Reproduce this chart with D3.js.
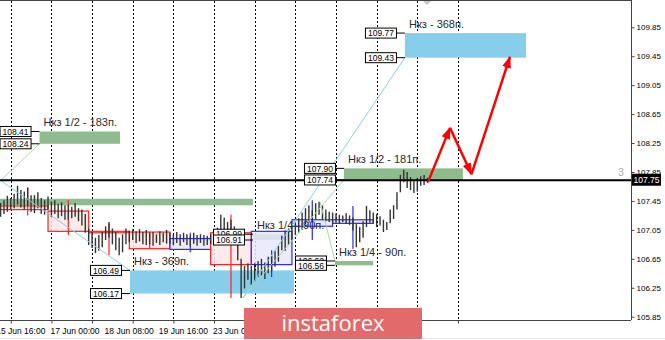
<!DOCTYPE html>
<html>
<head>
<meta charset="utf-8">
<script src="https://cdn.jsdelivr.net/npm/d3@7"></script>
<style>
body { margin: 0; background: #fff; }
svg { display: block; }
</style>
</head>
<body>
<div id="chart"></div>
<script>
// USDJPY H1 - bars are 2h hi/lo, index = trading hours from 15 Jun 00:00
const barStart = 18;
const barStep = 2;
const barHigh = [
    107.42, 107.46, 107.52, 107.49, 107.55, 107.66, 107.60, 107.58, 107.63, 107.53,
    107.53, 107.57, 107.49, 107.46, 107.51, 107.44, 107.46, 107.41, 107.43, 107.39,
    107.40, 107.37, 107.42, 107.35, 107.33, 107.27, 107.07, 107.02, 106.94, 106.98,
    107.02, 107.10, 107.16, 107.07, 107.02, 106.94, 106.99, 107.07, 107.04, 107.06,
    107.03, 107.06, 107.02, 107.05, 107.01, 107.02, 106.99, 107.03, 107.01, 107.05,
    107.01, 106.98, 107.02, 106.99, 107.01, 106.99, 106.97, 107.01, 106.98, 106.99,
    106.98, 106.97, 106.99, 107.01, 107.08, 107.26, 107.22, 107.16, 107.19, 107.10,
    106.97, 106.65, 106.55, 106.59, 106.55, 106.59, 106.62, 106.65, 106.60, 106.68,
    106.69, 106.76, 106.83, 106.97, 107.04, 107.07, 107.11, 107.15, 107.21, 107.29,
    107.35, 107.39, 107.32, 107.42, 107.44, 107.39, 107.33, 107.30, 107.29, 107.28,
    107.26, 107.25, 107.28, 107.25, 107.22, 107.13, 107.09, 107.17, 107.38, 107.32,
    107.29, 107.27, 107.24, 107.19, 107.16, 107.33, 107.39, 107.57, 107.81, 107.88,
    107.85, 107.78, 107.74, 107.77, 107.79, 107.81, 107.77
];
const barLow = [
    107.23, 107.27, 107.30, 107.33, 107.35, 107.40, 107.36, 107.33, 107.38, 107.30,
    107.28, 107.35, 107.27, 107.26, 107.33, 107.23, 107.27, 107.21, 107.24, 107.19,
    107.19, 107.21, 107.23, 107.17, 107.11, 107.01, 106.84, 106.80, 106.73, 106.76,
    106.81, 106.91, 106.94, 106.85, 106.77, 106.70, 106.74, 106.85, 106.88, 106.91,
    106.87, 106.89, 106.85, 106.84, 106.85, 106.83, 106.87, 106.84, 106.88, 106.86,
    106.86, 106.84, 106.87, 106.83, 106.88, 106.84, 106.82, 106.86, 106.83, 106.87,
    106.83, 106.84, 106.85, 106.87, 106.91, 106.96, 107.02, 106.94, 106.96, 106.91,
    106.63, 106.11, 106.24, 106.36, 106.29, 106.34, 106.40, 106.42, 106.37, 106.45,
    106.48, 106.54, 106.61, 106.77, 106.76, 106.84, 106.91, 106.98, 107.01, 107.05,
    107.10, 107.15, 107.18, 107.20, 107.26, 107.19, 107.17, 107.16, 107.14, 107.15,
    107.14, 107.16, 107.13, 107.12, 107.04, 106.81, 106.88, 106.94, 107.09, 107.15,
    107.14, 107.09, 107.11, 107.02, 107.05, 107.14, 107.20, 107.33, 107.57, 107.71,
    107.63, 107.60, 107.56, 107.58, 107.66, 107.67, 107.70
];

// daily boxes: [from, to, open, close, high, low]
const dayBoxes = [
    [-2, 22, 107.38, 107.33, 107.38, 107.33],
    [22, 46, 107.38, 107.33, 107.64, 107.25],
    [46, 70, 107.31, 107.03, 107.46, 106.98],
    [70, 94, 107.03, 107.01, 107.13, 106.70],
    [94, 118, 107.02, 106.79, 107.02, 106.79],
    [118, 142, 106.78, 106.93, 107.01, 106.74],
    [142, 166, 107.01, 106.57, 107.26, 106.11],
    [166, 190, 106.57, 107.03, 106.77, 106.40],
    [190, 214, 107.10, 107.19, 107.46, 106.91],
    [214, 238, 107.14, 107.19, 107.38, 106.79]
];

const zones = [
    {from: 0, to: 167, hi: 107.48, lo: 107.39, fill: "#8fbc8f", name: "", tags: false},
    {from: 41, to: 88.5, hi: 108.41, lo: 108.24, fill: "#8fbc8f", name: "Нкз 1/2 - 183п.", tags: true},
    {from: 94.4, to: 191.2, hi: 106.49, lo: 106.17, fill: "#87ceeb", name: "Нкз - 369п.", tags: true},
    {from: 167, to: 190, hi: 106.99, lo: 106.91, fill: "#8fbc8f", name: "Нкз 1/4 - 90п.", tags: true},
    {from: 215.4, to: 237.9, hi: 106.62, lo: 106.56, fill: "#8fbc8f", name: "Нкз 1/4 - 90п.", tags: true},
    {from: 220.7, to: 290.9, hi: 107.90, lo: 107.74, fill: "#8fbc8f", name: "Нкз 1/2 - 181п.", tags: true},
    {from: 256.7, to: 328.2, hi: 109.77, lo: 109.43, fill: "#87ceeb", name: "Нкз - 368п.", tags: true}
];

// thin trend lines [i1, p1, i2, p2, colour]
const trendLines = [
    [12, 107.83, 94.4, 106.49, "#87ceeb"],
    [12, 107.60, 41, 108.24, "#a8d8a8"],
    [161.1, 106.11, 256.7, 109.43, "#87ceeb"],
    [161.1, 106.11, 220.7, 107.74, "#a8d8a8"],
    [206.6, 107.44, 215.4, 106.62, "#a8d8a8"]
];

const forecast = [
    [270.3, 107.71], [283.3, 108.46], [296, 107.82], [318.7, 109.44]
];

const gridIdx = [24, 48, 72, 96, 120, 144, 168, 192, 216, 240, 264, 288];
const labelIdx = [16, 48, 80, 112, 144];
const labelText = ["15 Jun 16:00", "17 Jun 00:00", "18 Jun 08:00", "19 Jun 16:00", "23 Jun 00:00"];
const priceTicks = [109.85, 109.45, 109.05, 108.65, 108.25, 107.85, 107.45, 107.05, 106.65, 106.25, 105.85];
const lastPrice = 107.75;

const W = 665, H = 340;
const plotR = 631, plotB = 320;

const svg = d3.select("#chart").append("svg")
    .attr("width", W)
    .attr("height", H)
    .style("font-family", "'Liberation Sans', Arial, sans-serif");

const x = d3.scaleLinear().domain([17.65, 390.15]).range([0, plotR]);
const y = d3.scaleLinear().domain([105.85, 109.85]).range([316.7, 27.3]);

const defs = svg.append("defs");
defs.append("clipPath").attr("id", "clip")
    .append("rect").attr("x", 0).attr("y", 1).attr("width", plotR).attr("height", plotB - 1);
defs.append("marker")
    .attr("id", "head")
    .attr("markerUnits", "userSpaceOnUse")
    .attr("viewBox", "0 -5 12 10")
    .attr("refX", 11).attr("refY", 0)
    .attr("markerWidth", 12).attr("markerHeight", 10)
    .attr("orient", "auto")
    .append("path").attr("d", "M0,-4.5L12,0L0,4.5Z").attr("fill", "#ff0000");

const plot = svg.append("g").attr("clip-path", "url(#clip)");

// grid
plot.selectAll(".grid").data(gridIdx).enter().append("line")
    .attr("x1", d => Math.round(x(d)) + 0.5).attr("x2", d => Math.round(x(d)) + 0.5)
    .attr("y1", 1).attr("y2", plotB)
    .attr("stroke", "#000").attr("stroke-width", 1).attr("stroke-dasharray", "2,2");

// zones
plot.selectAll(".zone").data(zones).enter().append("rect")
    .attr("x", d => x(d.from)).attr("width", d => x(d.to) - x(d.from))
    .attr("y", d => y(d.hi)).attr("height", d => y(d.lo) - y(d.hi))
    .attr("fill", d => d.fill);

// daily boxes
dayBoxes.forEach(b => {
    let up = b[3] >= b[2];
    let col = up ? "#2a2aff" : "#ff2020";
    let top = y(Math.max(b[2], b[3])), bot = y(Math.min(b[2], b[3]));
    plot.append("rect")
        .attr("x", x(b[0])).attr("width", x(b[1]) - x(b[0]))
        .attr("y", top).attr("height", Math.max(bot - top, 1))
        .attr("fill", up ? "#e8e8fb" : "#fde6e6")
        .attr("fill-opacity", 0.85)
        .attr("stroke", col).attr("stroke-width", 1.2);
    let mid = x((b[0] + b[1]) / 2);
    plot.append("line")
        .attr("x1", mid).attr("x2", mid)
        .attr("y1", y(b[4])).attr("y2", y(b[5]))
        .attr("stroke", col).attr("stroke-width", 1.2);
});

// price bars
plot.selectAll(".bar").data(barHigh).enter().append("line")
    .attr("x1", (d, i) => x(barStart + i * barStep)).attr("x2", (d, i) => x(barStart + i * barStep))
    .attr("y1", d => y(d)).attr("y2", (d, i) => y(barLow[i]))
    .attr("stroke", "#333").attr("stroke-width", 1.4);

// trend lines
plot.selectAll(".trend").data(trendLines).enter().append("line")
    .attr("x1", d => x(d[0])).attr("y1", d => y(d[1]))
    .attr("x2", d => x(d[2])).attr("y2", d => y(d[3]))
    .attr("stroke", d => d[4]).attr("stroke-width", 1);

// last price line
plot.append("line")
    .attr("x1", 0).attr("x2", plotR)
    .attr("y1", y(lastPrice) + 1).attr("y2", y(lastPrice) + 1)
    .attr("stroke", "#000").attr("stroke-width", 2);

// zone names and price tags
zones.filter(d => d.name).forEach(d => {
    plot.append("text")
        .attr("x", x(d.from) + 4).attr("y", y(d.hi) - 5)
        .attr("font-size", 11).attr("fill", "#2a2a2a")
        .text(d.name);
});

zones.filter(d => d.tags).forEach(d => {
    let right = x(d.from) - 8.5;
    [d.hi, d.lo].forEach(p => {
        plot.append("line")
            .attr("x1", right).attr("x2", x(d.from))
            .attr("y1", y(p)).attr("y2", y(p))
            .attr("stroke", "#000").attr("stroke-width", 1);
        plot.append("rect")
            .attr("x", right - 31).attr("y", y(p) - 5)
            .attr("width", 31).attr("height", 10)
            .attr("fill", "#fff").attr("stroke", "#000").attr("stroke-width", 1);
        plot.append("text")
            .attr("x", right - 15.5).attr("y", y(p) + 3.2)
            .attr("text-anchor", "middle")
            .attr("font-size", 8.5).attr("fill", "#000")
            .text(p.toFixed(2));
    });
});

// forecast arrows
for (let i = 0; i < forecast.length - 1; i++) {
    plot.append("line")
        .attr("x1", x(forecast[i][0])).attr("y1", y(forecast[i][1]))
        .attr("x2", x(forecast[i + 1][0])).attr("y2", y(forecast[i + 1][1]))
        .attr("stroke", "#ff0000").attr("stroke-width", 2.5)
        .attr("marker-end", "url(#head)");
}

plot.append("text")
    .attr("x", 621).attr("y", y(lastPrice) - 3)
    .attr("text-anchor", "middle")
    .attr("font-size", 10).attr("fill", "#aaa")
    .text("3");

plot.append("path")
    .attr("d", "M423,1L431,1L427,5Z")
    .attr("fill", "#c8c8c8");

// frame
svg.append("line").attr("x1", 0).attr("x2", plotR).attr("y1", 0.5).attr("y2", 0.5).attr("stroke", "#444");
svg.append("line").attr("x1", 0).attr("x2", plotR).attr("y1", plotB + 0.5).attr("y2", plotB + 0.5).attr("stroke", "#444");
svg.append("line").attr("x1", plotR + 0.5).attr("x2", plotR + 0.5).attr("y1", 0).attr("y2", plotB).attr("stroke", "#444");
svg.append("line").attr("x1", 0).attr("x2", W).attr("y1", 338.5).attr("y2", 338.5).attr("stroke", "#e4e4e4");

// price axis
const yAxis = svg.append("g")
    .attr("transform", `translate(${plotR + 0.5},0)`)
    .call(d3.axisRight(y).tickValues(priceTicks).tickSize(3).tickPadding(2).tickFormat(d3.format(".2f")));
yAxis.select(".domain").remove();
yAxis.selectAll("text").attr("font-size", 8).attr("font-family", "'Liberation Sans', Arial, sans-serif").attr("fill", "#000");
yAxis.selectAll("line").attr("stroke", "#444");

// time axis
const xTicks = svg.append("g")
    .attr("transform", `translate(0,${plotB + 0.5})`)
    .call(d3.axisBottom(x).tickValues(gridIdx).tickSize(3).tickFormat(""));
xTicks.select(".domain").remove();
xTicks.selectAll("line").attr("stroke", "#444");

svg.selectAll(".tlabel").data(labelIdx).enter().append("text")
    .attr("x", d => x(d) - 1).attr("y", 334)
    .attr("font-size", 8.5).attr("fill", "#000")
    .text((d, i) => labelText[i]);

// last price tag
svg.append("rect")
    .attr("x", 632).attr("y", y(lastPrice) - 5.5)
    .attr("width", 29).attr("height", 12)
    .attr("fill", "#000");
svg.append("text")
    .attr("x", 646.5).attr("y", y(lastPrice) + 3.5)
    .attr("text-anchor", "middle")
    .attr("font-size", 8.5).attr("fill", "#fff")
    .text(lastPrice.toFixed(2));

// watermark
svg.append("rect")
    .attr("x", 244).attr("y", 308).attr("width", 178).attr("height", 31)
    .attr("fill", "#e36a6a");
svg.append("text")
    .attr("x", 333).attr("y", 331)
    .attr("text-anchor", "middle")
    .attr("font-family", "'Open Sans', sans-serif")
    .attr("font-size", 22).attr("fill", "#fff")
    .text("instaforex");
</script>
</body>
</html>
